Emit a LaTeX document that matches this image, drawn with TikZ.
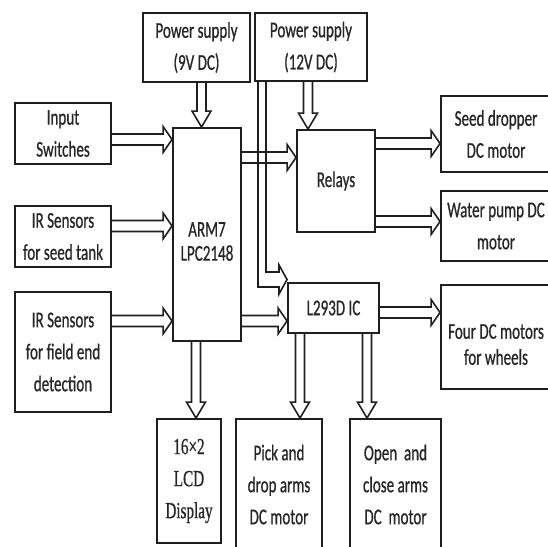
\documentclass[tikz,border=0pt]{standalone}
\usepackage{fontspec}
\setmainfont[FakeStretch=0.67,FakeBold=0.7]{Carlito}
\newfontfamily\lcdfont[FakeStretch=0.66,FakeBold=0.7]{Liberation Serif}
\usetikzlibrary{calc}
\tikzset{
  box/.style={draw=black!88, line width=1.9pt, inner sep=0pt, align=center,
    text=black!85, font=\fontsize{22.5}{32}\selectfont},
  txt/.style={inner sep=0pt, align=center, text=black!85, font=\fontsize{22.5}{32}\selectfont},
  arr/.style={draw=black!88, line width=1.6pt, line join=miter},
}
% horizontal block arrow: #1 start anchor, #2 end anchor, #3 y
\newcommand\harr[3]{%
  \draw[arr] ($(#1 |- 0,#3)+(0,-5.5)$) -- ($(#2 |- 0,#3)+(-9,-5.5)$)
    -- ($(#2 |- 0,#3)+(-9,-13)$) -- (#2 |- 0,#3) -- ($(#2 |- 0,#3)+(-9,13)$)
    -- ($(#2 |- 0,#3)+(-9,5.5)$) -- ($(#1 |- 0,#3)+(0,5.5)$);}
% vertical block arrow: #1 start anchor, #2 end anchor, #3 x
\newcommand\varr[3]{%
  \draw[arr] ($(#3,0 |- #1)+(-4.5,0)$) -- ($(#3,0 |- #2)+(-4.5,-16)$)
    -- ($(#3,0 |- #2)+(-9.5,-16)$) -- (#3,0 |- #2) -- ($(#3,0 |- #2)+(9.5,-16)$)
    -- ($(#3,0 |- #2)+(4.5,-16)$) -- ($(#3,0 |- #1)+(4.5,0)$);}
\begin{document}
\begin{tikzpicture}[x=1pt,y=-1pt]
\useasboundingbox (0,0) rectangle (548,546);
\clip (0,0) rectangle (548,546);
% boxes
\node[box, minimum width=107pt, minimum height=69pt] (ps9) at (196.5,47.5) {Power supply\\(9V DC)};
\node[box, minimum width=112pt, minimum height=68pt] (ps12) at (311,47) {Power supply\\(12V DC)};
\node[box, minimum width=96pt, minimum height=61pt] (inp) at (63,133.5) {Input\\Switches};
\node[box, minimum width=96pt, minimum height=61pt] (irs) at (63,236.5) {IR Sensors\\for seed tank};
\node[box, minimum width=96pt, minimum height=120pt] (irf) at (63,352) {IR Sensors\\for field end\\detection};
\node[box, minimum width=68pt, minimum height=213pt] (arm) at (207,234.5) {};
\node[txt] (armt) at (207,241.5) {ARM7\\[-8pt]LPC2148};
\node[box, minimum width=78pt, minimum height=102pt] (rel) at (336,181) {Relays};
\node[box, minimum width=91pt, minimum height=50pt] (l293) at (333.5,308) {L293D IC};
\node[box, minimum width=110pt, minimum height=76pt] (seed) at (496,134) {Seed dropper\\DC motor};
\node[box, minimum width=110pt, minimum height=70pt] (water) at (496,226) {Water pump DC\\motor};
\node[box, minimum width=110pt, minimum height=104pt] (four) at (496,337) {};
\node[txt] (fourt) at (496,344.5) {Four DC motors\\[-6pt]for wheels};
\node[box, minimum width=64pt, minimum height=124pt, font=\lcdfont\fontsize{23}{32}\selectfont] (lcd) at (189,481) {16×2\\LCD\\Display};
\node[box, minimum width=86pt, minimum height=131pt] (pick) at (279,484.5) {Pick and\\drop arms\\DC motor};
\node[box, minimum width=91pt, minimum height=131pt] (open) at (395.5,484.5) {Open\ \ and\\close arms\\DC\ \ motor};
% arrows
\harr{inp.east}{arm.west}{139.5}
\harr{irs.east}{arm.west}{226}
\harr{irf.east}{arm.west}{321}
\harr{arm.east}{rel.west}{157.5}
\harr{arm.east}{l293.west}{321}
\harr{rel.east}{seed.west}{143.5}
\harr{rel.east}{water.west}{221.5}
\harr{l293.east}{four.west}{312.5}
\varr{ps9.south}{arm.north}{201.5}
\varr{ps12.south}{rel.north}{308}
\varr{arm.south}{lcd.north}{196}
\varr{l293.south}{pick.north}{300}
\varr{l293.south}{open.north}{367}
% bent supply arrow from 12V to L293D
\draw[arr] (258,0 |- ps12.south) -- (258,287) -- (279,287) -- (279,294)
  -- (l293.west |- 0,279.5) -- (279,265) -- (279,272) -- (266,272) -- (266,0 |- ps12.south);
\end{tikzpicture}
\end{document}
